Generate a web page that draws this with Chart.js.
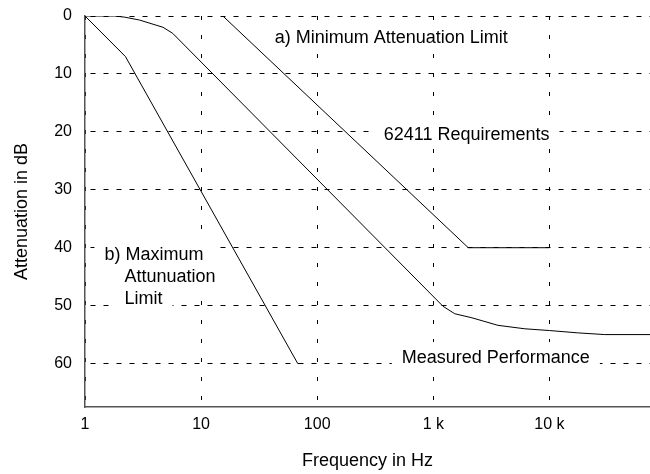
<!DOCTYPE html>
<html>
<head>
<meta charset="utf-8">
<script src="https://cdn.jsdelivr.net/npm/chart.js@4"></script>
<style>
  body { margin: 0; background: #fff; }
</style>
</head>
<body>
<canvas id="canvas" width="650" height="474"></canvas>
<script>
const xTickValues = [1, 10, 100, 1000, 10000];
const xTickLabels = ["1", "10", "100", "1 k", "10 k"];
const yTickValues = [0, 10, 20, 30, 40, 50, 60];

// b) maximum attenuation limit
const maxLimitFreq = [1, 2.23, 68, 75];
const maxLimitDb = [0, 7, 60, 60];

// a) minimum attenuation limit
const minLimitFreq = [15.4, 2000, 10000];
const minLimitDb = [0, 40, 40];

// measured performance
const measuredFreq = [1, 1.8, 2.2, 2.95, 4.7, 5.7, 1210, 1530, 2150, 3600, 6150, 10000, 17500, 30000, 100000];
const measuredDb = [0, 0, 0.2, 0.7, 1.95, 3.0, 50.1, 51.4, 52.1, 53.4, 54.0, 54.3, 54.7, 55.0, 55.0];

// text notes, placed in data units (frequency, dB at baseline)
const noteTexts = ["a) Minimum Attenuation Limit", "62411 Requirements", "Measured Performance", "b) Maximum", "Attunuation", "Limit"];
const noteFreq = [43, 374, 535, 1.47, 2.19, 2.19];
const noteDb = [4.74, 21.4, 59.9, 42.2, 45.9, 49.7];

const FONT = "'Liberation Sans', Arial, sans-serif";

function pairs(xs, ys) {
  return xs.map((x, i) => ({ x: x, y: ys[i] }));
}

const notePlugin = {
  id: "notes",
  beforeDatasetsDraw(chart) {
    const ctx = chart.ctx;
    const sx = chart.scales.x;
    const sy = chart.scales.y;
    ctx.save();
    ctx.font = "18px " + FONT;
    ctx.textBaseline = "alphabetic";
    let pos = noteTexts.map((t, i) => ({
      t: t,
      x: sx.getPixelForValue(noteFreq[i]),
      y: sy.getPixelForValue(noteDb[i]),
      w: ctx.measureText(t).width,
    }));
    ctx.fillStyle = "#fff";
    pos.forEach((p) => ctx.fillRect(p.x - 10, p.y - 21, p.w + 20, 30));
    ctx.fillStyle = "#000";
    pos.forEach((p) => ctx.fillText(p.t, p.x, p.y));
    ctx.restore();
  },
};

let line = { borderColor: "#000", borderWidth: 1, pointRadius: 0, tension: 0, fill: false };

new Chart(document.getElementById("canvas"), {
  type: "line",
  data: {
    datasets: [
      Object.assign({ label: "Maximum", data: pairs(maxLimitFreq, maxLimitDb) }, line),
      Object.assign({ label: "Minimum", data: pairs(minLimitFreq, minLimitDb) }, line),
      Object.assign({ label: "Measured", data: pairs(measuredFreq, measuredDb) }, line),
    ],
  },
  options: {
    responsive: false,
    animation: false,
    layout: { padding: { top: 16, left: 0, right: 0, bottom: 0 } },
    plugins: { legend: { display: false }, tooltip: { enabled: false } },
    scales: {
      x: {
        type: "logarithmic",
        min: 1,
        max: 73500,
        afterBuildTicks: (s) => { s.ticks = xTickValues.map((v) => ({ value: v })); },
        afterFit: (s) => { s.height = 67; s.paddingLeft = 0; s.paddingRight = 0; },
        ticks: {
          callback: (v, i) => xTickLabels[i],
          padding: 8,
          maxRotation: 0,
          autoSkip: false,
          color: "#000",
          font: { family: FONT, size: 16 },
        },
        grid: { color: "#000", lineWidth: 1, drawTicks: false },
        border: { color: "#555", width: 1.5, dash: [4, 15] },
        title: {
          display: true,
          text: "Frequency in Hz",
          color: "#000",
          font: { family: FONT, size: 18 },
          padding: { top: 0, bottom: 2 },
        },
      },
      y: {
        type: "linear",
        reverse: true,
        min: 0,
        max: 67.5,
        afterBuildTicks: (s) => { s.ticks = yTickValues.map((v) => ({ value: v })); },
        afterFit: (s) => { s.width = 85; s.paddingTop = 0; s.paddingBottom = 0; },
        ticks: { padding: 13, color: "#000", font: { family: FONT, size: 16 } },
        grid: { color: "#000", lineWidth: 1, drawTicks: false },
        border: { color: "#555", width: 1.5, dash: [5, 8], dashOffset: 8 },
        title: {
          display: true,
          text: "Attenuation in dB",
          color: "#000",
          font: { family: FONT, size: 18 },
          padding: { top: 11, bottom: 0 },
        },
      },
    },
  },
  plugins: [notePlugin],
});
</script>
</body>
</html>
